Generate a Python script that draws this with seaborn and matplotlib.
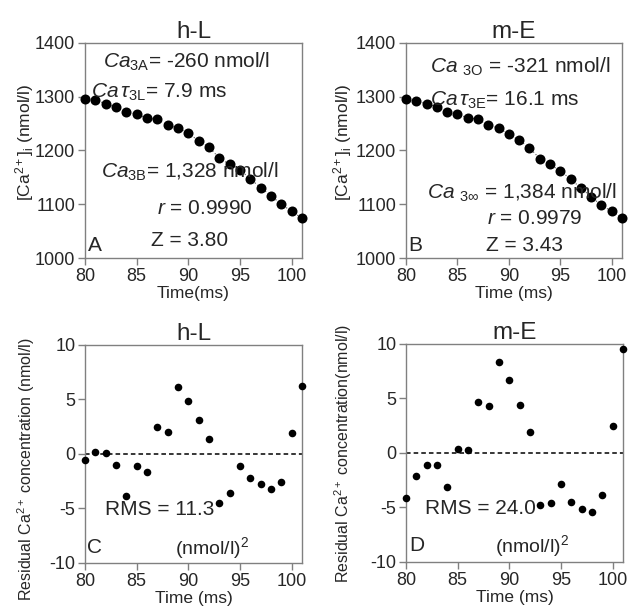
import numpy as np
import pandas as pd
import matplotlib
matplotlib.use("Agg")
import matplotlib.pyplot as plt
import seaborn as sns

# ---- data ----
time_ms = list(range(80, 102))
ca_hL = [1295.5, 1293.7, 1287, 1280, 1272, 1268, 1260, 1258, 1247, 1242, 1232,
         1218, 1206, 1186, 1174, 1164, 1147, 1131, 1116, 1100, 1087, 1074]
ca_mE = [1295.5, 1292, 1287, 1281, 1271, 1267, 1261, 1258, 1247, 1242, 1230,
         1219, 1205, 1185, 1174, 1162, 1147, 1130, 1114, 1098, 1087, 1074]
res_hL = [-0.55, 0.2, 0.06, -0.98, -3.9, -1.07, -1.68, 2.47, 1.98, 6.17, 4.89,
          3.15, 1.37, -4.52, -3.54, -1.1, -2.23, -2.72, -3.24, -2.56, 1.89, 6.2]
res_mE = [-4.14, -2.09, -1.07, -1.13, -3.16, 0.4, 0.28, 4.69, 4.29, 8.37, 6.69,
          4.36, 1.96, -4.79, -4.63, -2.82, -4.51, -5.18, -5.4, -3.83, 2.48, 9.54]

titles = ["h-L", "m-E"]

sns.set_theme(style="ticks")
plt.rcParams["font.family"] = ["Liberation Sans", "DejaVu Sans"]
plt.rcParams["mathtext.fontset"] = "custom"
plt.rcParams["mathtext.rm"] = "Liberation Sans"
plt.rcParams["mathtext.it"] = "Liberation Sans:italic"
plt.rcParams["mathtext.bf"] = "Liberation Sans:bold"
plt.rcParams["axes.unicode_minus"] = False

TXT = "#262626"
SP = "#808080"

fig = plt.figure(figsize=(6.29, 6.11), dpi=100)
axA = fig.add_axes([0.1351, 0.5777, 0.345, 0.352])
axB = fig.add_axes([0.6455, 0.5777, 0.3434, 0.352])
axC = fig.add_axes([0.1351, 0.0786, 0.345, 0.3568])
axD = fig.add_axes([0.6455, 0.0802, 0.345, 0.3568])

df_top = [pd.DataFrame({"t": time_ms, "ca": ca_hL}),
          pd.DataFrame({"t": time_ms, "ca": ca_mE})]
df_bot = [pd.DataFrame({"t": time_ms, "r": res_hL}),
          pd.DataFrame({"t": time_ms, "r": res_mE})]

def style_axes(ax):
    for s in ax.spines.values():
        s.set_color(SP)
        s.set_linewidth(1.0)
    ax.tick_params(axis="both", which="both", direction="out", length=5,
                   width=1.0, color=SP, labelsize=13, labelcolor=TXT, pad=2,
                   top=False, right=False)
    ax.set_xlim(80, 101)
    ax.set_xticks([80, 85, 90, 95, 100])

# top panels
for ax, df, title in zip([axA, axB], df_top, titles):
    sns.lineplot(data=df, x="t", y="ca", ax=ax, color="#555555", lw=0.8,
                 linestyle=(0, (1, 2)), zorder=2)
    sns.scatterplot(data=df, x="t", y="ca", ax=ax, color="black", s=52,
                    edgecolor="black", linewidth=0, zorder=3, clip_on=False)
    style_axes(ax)
    ax.set_ylim(1000, 1400)
    ax.set_yticks([1000, 1100, 1200, 1300, 1400])
    ax.set_title(title, fontsize=17.5, color=TXT, pad=3)
    ax.set_ylabel(r"[Ca$^{2+}$]$_{\rm i}$ (nmol/l)", fontsize=12.5, color=TXT, labelpad=0)

axA.yaxis.set_label_coords(-0.228, 0.54)
axB.yaxis.set_label_coords(-0.24, 0.54)
axA.set_xlabel("Time(ms)", fontsize=12.5, color=TXT, labelpad=1)
axB.set_xlabel("Time (ms)", fontsize=12.5, color=TXT, labelpad=1)

# bottom panels
for ax, df, title in zip([axC, axD], df_bot, titles):
    ax.axhline(0, color="black", lw=1.1, ls=(0, (3, 2)), zorder=1)
    sns.scatterplot(data=df, x="t", y="r", ax=ax, color="black", s=30,
                    edgecolor="black", linewidth=0, zorder=3, clip_on=False)
    style_axes(ax)
    ax.set_ylim(-10, 10)
    ax.set_yticks([-10, -5, 0, 5, 10])
    ax.set_title(title, fontsize=17.5, color=TXT, pad=3)
    ax.set_xlabel("Time (ms)", fontsize=12.5, color=TXT, labelpad=1)

axC.set_ylabel(r"Residual Ca$^{2+}$ concentration (nmol/l)", fontsize=11.5, color=TXT)
axD.set_ylabel(r"Residual Ca$^{2+}$ concentration(nmol/l)", fontsize=11.5, color=TXT)
axC.yaxis.set_label_coords(-0.22, 0.43)
axD.yaxis.set_label_coords(-0.24, 0.50)

FS = 15
# annotations A
axA.text(89.85, 1364, r"$\it{Ca}_{\rm 3A}$= -260 nmol/l", fontsize=FS, color=TXT, ha="center", va="center")
axA.text(87.2, 1309, r"$\it{Ca}\,\tau_{\rm 3L}$= 7.9 ms", fontsize=FS, color=TXT, ha="center", va="center")
axA.text(90.1, 1160, r"$\it{Ca}_{\rm 3B}$= 1,328 nmol/l", fontsize=FS, color=TXT, ha="center", va="center")
axA.text(91.6, 1093, r"$\it{r}$ = 0.9990", fontsize=FS, color=TXT, ha="center", va="center")
axA.text(90.1, 1033, "Z = 3.80", fontsize=FS, color=TXT, ha="center", va="center")
axA.text(80.25, 1024, "A", fontsize=FS, color=TXT, ha="left", va="center")

# annotations B
axB.text(91.07, 1355, r"$\it{Ca}$ $_{\rm 3O}$ = -321 nmol/l", fontsize=FS, color=TXT, ha="center", va="center")
axB.text(89.6, 1294, r"$\it{Ca}\,\tau_{\rm 3E}$= 16.1 ms", fontsize=FS, color=TXT, ha="center", va="center")
axB.text(91.3, 1121, r"$\it{Ca}$ $_{3\infty}$ = 1,384 nmol/l", fontsize=FS, color=TXT, ha="center", va="center")
axB.text(92.5, 1074, r"$\it{r}$ = 0.9979", fontsize=FS, color=TXT, ha="center", va="center")
axB.text(91.55, 1024, "Z = 3.43", fontsize=FS, color=TXT, ha="center", va="center")
axB.text(80.2, 1024, "B", fontsize=FS, color=TXT, ha="left", va="center")

# annotations C, D
axC.text(87.25, -5.1, "RMS = 11.3", fontsize=FS, color=TXT, ha="center", va="center")
axC.text(92.3, -8.6, r"(nmol/l)$^{\rm 2}$", fontsize=FS - 1, color=TXT, ha="center", va="center")
axC.text(80.2, -8.6, "C", fontsize=FS, color=TXT, ha="left", va="center")
axD.text(87.2, -5.1, "RMS = 24.0", fontsize=FS, color=TXT, ha="center", va="center")
axD.text(92.2, -8.5, r"(nmol/l)$^{\rm 2}$", fontsize=FS - 1, color=TXT, ha="center", va="center")
axD.text(80.3, -8.5, "D", fontsize=FS, color=TXT, ha="left", va="center")

fig.savefig("out.png", dpi=100)
